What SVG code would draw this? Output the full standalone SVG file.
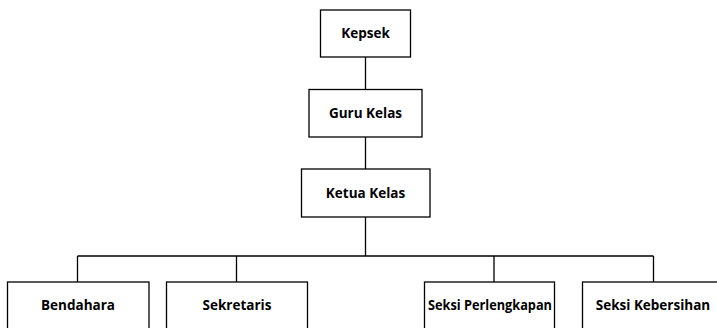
<svg xmlns="http://www.w3.org/2000/svg" width="717" height="328" viewBox="0 0 717 328">
<style>
.box{fill:#fff;stroke:#000;stroke-width:1.3}
.ln{fill:none;stroke:#000;stroke-width:1.3}
text{font-family:"Open Sans","Liberation Sans",sans-serif;font-weight:bold;font-size:13.5px;text-anchor:middle;fill:#000}
</style>
<rect width="717" height="328" fill="#fff"/>
<g id="connectors">
<path class="ln" d="M365.5 57V89M365.5 137V169M365.5 217V256M77.5 256H653.5M77.5 256V282M236.5 256V282M494 256V282M653.5 256V282"/>
</g>
<g id="kepsek"><rect class="box" x="320.5" y="10" width="90" height="47"/><text x="365.5" y="38">Kepsek</text></g>
<g id="guru-kelas"><rect class="box" x="309" y="89.5" width="113" height="47.5"/><text x="365.5" y="118">Guru Kelas</text></g>
<g id="ketua-kelas"><rect class="box" x="301.5" y="169" width="128.5" height="48"/><text x="365.5" y="198">Ketua Kelas</text></g>
<g id="bendahara"><rect class="box" x="7.5" y="282" width="141.5" height="60"/><text x="78" y="310">Bendahara</text></g>
<g id="sekretaris"><rect class="box" x="166.5" y="282" width="141" height="60"/><text x="237" y="310">Sekretaris</text></g>
<g id="seksi-perlengkapan"><rect class="box" x="424.5" y="282" width="130" height="60"/><text x="490" y="310" textLength="124" lengthAdjust="spacingAndGlyphs">Seksi Perlengkapan</text></g>
<g id="seksi-kebersihan"><rect class="box" x="582.5" y="282" width="150" height="60"/><text x="653" y="310">Seksi Kebersihan</text></g>
</svg>
